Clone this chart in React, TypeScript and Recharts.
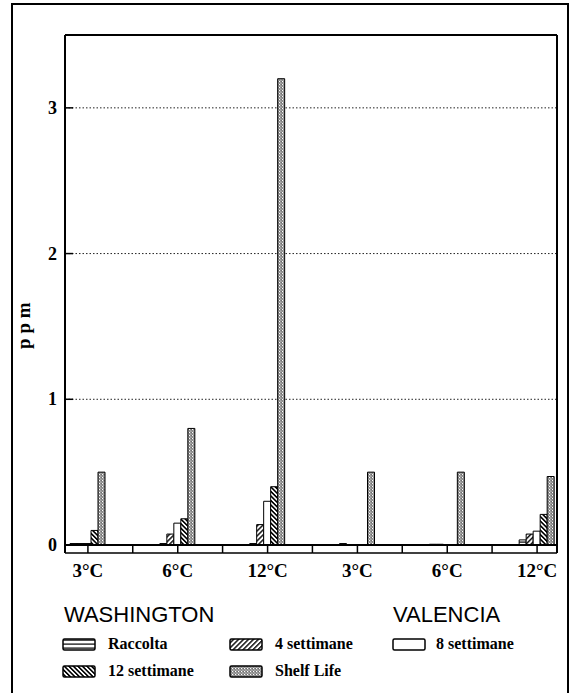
import React from "react";
import {
  BarChart,
  Bar,
  XAxis,
  YAxis,
  CartesianGrid,
  Legend,
} from "recharts";

// categories (Washington first three, Valencia last three)
const keys = ["W3", "W6", "W12", "V3", "V6", "V12"];
const tempLabels = ["3°C", "6°C", "12°C", "3°C", "6°C", "12°C"];

// ppm values
const raccolta = [0.01, 0.01, 0.01, 0.01, 0.005, 0.035];
const sett4 = [0.01, 0.075, 0.14, 0, 0.005, 0.075];
const sett8 = [0.01, 0.15, 0.3, 0, 0, 0.095];
const sett12 = [0.1, 0.18, 0.4, 0, 0, 0.21];
const shelfLife = [0.5, 0.8, 3.2, 0.5, 0.5, 0.47];

const yTicks = [0, 1, 2, 3];
const gridValues = [1, 2, 3];

const seriesNames = ["Raccolta", "4 settimane", "8 settimane", "12 settimane", "Shelf Life"];
const seriesKeys = ["raccolta", "sett4", "sett8", "sett12", "shelf"];
const seriesFills = [
  "url(#pRaccolta)",
  "url(#pHatch4)",
  "#fff",
  "url(#pHatch12)",
  "url(#pShelf)",
];

const data = keys.map((k, i) => ({
  key: k,
  raccolta: raccolta[i],
  sett4: sett4[i],
  sett8: sett8[i],
  sett12: sett12[i],
  shelf: shelfLife[i],
}));

const W = 581;
const H = 693;
const PL = 65;
const PR = 557;
const HALF = 45;
const serif = "'Liberation Serif', 'Times New Roman', serif";
const sans = "'Liberation Sans', Arial, sans-serif";

const CatTick = (props: any) => {
  const { x, y, index } = props;
  const last = index === keys.length - 1;
  return (
    <g>
      <line x1={Math.max(PL, x - HALF)} x2={Math.min(PR, x + HALF)} y1={y + 8} y2={y + 8} stroke="#000" strokeWidth={1.5} />
      <line x1={x} x2={x} y1={y} y2={y + 8} stroke="#000" strokeWidth={1.5} />
      {x - HALF > PL && <line x1={x - HALF} x2={x - HALF} y1={y} y2={y + 8} stroke="#000" strokeWidth={1.5} />}
      {index === 0 && <line x1={PL} x2={PL} y1={y} y2={y + 8} stroke="#000" strokeWidth={2} />}
      {last && <line x1={PR} x2={PR} y1={y} y2={y + 8} stroke="#000" strokeWidth={2} />}
      <text x={x} y={y + 32} textAnchor="middle" fontFamily={serif} fontWeight="bold" fontSize={19} fill="#000">
        {tempLabels[index]}
      </text>
    </g>
  );
};

const ValTick = (props: any) => {
  const { x, y, payload } = props;
  return (
    <g>
      <line x1={x + 8} x2={x + 16} y1={y} y2={y} stroke="#000" strokeWidth={1.5} />
      <text x={x} y={y + 6} textAnchor="end" fontFamily={serif} fontWeight="bold" fontSize={18} fill="#000">
        {payload.value}
      </text>
    </g>
  );
};

const PpmLabel = (props: any) => {
  const { viewBox } = props;
  const x = viewBox.x + 25;
  const y = viewBox.y + viewBox.height * 0.57;
  return (
    <text x={x} y={y} transform={`rotate(-90, ${x}, ${y})`} textAnchor="middle" fontFamily={serif} fontWeight="bold" fontSize={19} fill="#000">
      p p m
    </text>
  );
};

const Swatch = ({ fill }: { fill: string }) => (
  <svg width={34} height={13} style={{ display: "block" }}>
    <rect x={1} y={1} width={32} height={11} rx={1.5} fill={fill} stroke="#000" strokeWidth={1.5} />
  </svg>
);

const legendPos = [
  { left: 62, top: 54 },
  { left: 229, top: 54 },
  { left: 392, top: 54 },
  { left: 62, top: 81 },
  { left: 229, top: 81 },
];

const LegendBox = () => (
  <div style={{ position: "relative", width: W, height: 100 }}>
    <div style={{ position: "absolute", left: 64, top: 14, fontFamily: sans, fontSize: 22, lineHeight: "22px" }}>
      WASHINGTON
    </div>
    <div style={{ position: "absolute", left: 393, top: 14, fontFamily: sans, fontSize: 22, lineHeight: "22px" }}>
      VALENCIA
    </div>
    {seriesNames.map((name, i) => (
      <div
        key={name}
        style={{
          position: "absolute",
          left: legendPos[i].left,
          top: legendPos[i].top - 8,
          height: 16,
          display: "flex",
          alignItems: "center",
        }}
      >
        <Swatch fill={seriesFills[i]} />
        <span
          style={{
            marginLeft: i === 2 ? 10 : 12,
            fontFamily: serif,
            fontWeight: "bold",
            fontSize: 16,
          }}
        >
          {name}
        </span>
      </div>
    ))}
  </div>
);

export default function App() {
  const axisLine = { stroke: "#000", strokeWidth: 2 };
  return (
    <div style={{ position: "absolute", left: 0, top: 0, width: W, height: H, overflow: "hidden", background: "#fff" }}>
      <div
        style={{
          position: "absolute",
          left: 11,
          top: 3,
          width: 558,
          height: 720,
          border: "2px solid #000",
          boxSizing: "border-box",
        }}
      />
      <div style={{ position: "absolute", left: 0, top: 0 }}>
        <BarChart
          width={W}
          height={H}
          data={data}
          margin={{ top: 34, right: W - PR - 1, left: 5, bottom: 108 }}
          barGap={0}
          barSize={7}
        >
          <defs>
            <pattern id="pRaccolta" patternUnits="userSpaceOnUse" width={6} height={4}>
              <rect width={6} height={4} fill="#fff" />
              <rect y={1.5} width={6} height={1.2} fill="#000" />
            </pattern>
            <pattern id="pHatch4" patternUnits="userSpaceOnUse" width={3.5} height={3.5} patternTransform="rotate(45)">
              <rect width={3.5} height={3.5} fill="#fff" />
              <rect width={1.4} height={3.5} fill="#000" />
            </pattern>
            <pattern id="pHatch12" patternUnits="userSpaceOnUse" width={3.2} height={3.2} patternTransform="rotate(-45)">
              <rect width={3.2} height={3.2} fill="#fff" />
              <rect width={1.6} height={3.2} fill="#000" />
            </pattern>
            <pattern id="pShelf" patternUnits="userSpaceOnUse" width={3} height={3}>
              <rect width={3} height={3} fill="#8e8e8e" />
              <rect x={0} y={0} width={1} height={1} fill="#fff" />
              <rect x={1.5} y={1.5} width={1} height={1} fill="#e6e6e6" />
              <rect x={2} y={0.5} width={0.8} height={0.8} fill="#444" />
            </pattern>
          </defs>
          <CartesianGrid
            vertical={false}
            horizontalValues={gridValues}
            stroke="#222"
            strokeDasharray="1.5 2"
          />
          <XAxis
            dataKey="key"
            padding={{ left: -22, right: -25 }}
            axisLine={axisLine}
            tickLine={false}
            tickSize={0}
            tickMargin={0}
            height={40}
            interval={0}
            tick={<CatTick />}
          />
          <XAxis
            xAxisId="top"
            orientation="top"
            dataKey="key"
            height={1}
            tick={false}
            tickLine={false}
            axisLine={axisLine}
          />
          <YAxis
            domain={[0, 3.5]}
            ticks={yTicks}
            width={60}
            axisLine={axisLine}
            tickLine={false}
            tickSize={0}
            tickMargin={8}
            tick={<ValTick />}
            label={{ content: <PpmLabel /> }}
          />
          <YAxis
            yAxisId="right"
            orientation="right"
            width={1}
            domain={[0, 3.5]}
            ticks={yTicks}
            tick={false}
            tickLine={false}
            axisLine={axisLine}
          />
          {seriesKeys.map((k, i) => (
            <Bar
              key={k}
              dataKey={k}
              name={seriesNames[i]}
              fill={seriesFills[i]}
              stroke="#000"
              strokeWidth={1}
              isAnimationActive={false}
            />
          ))}
          <Legend
            verticalAlign="middle"
            align="center"
            layout="horizontal"
            wrapperStyle={{ left: 0, top: 590, width: W, height: 100 }}
            content={<LegendBox />}
          />
        </BarChart>
      </div>
    </div>
  );
}
